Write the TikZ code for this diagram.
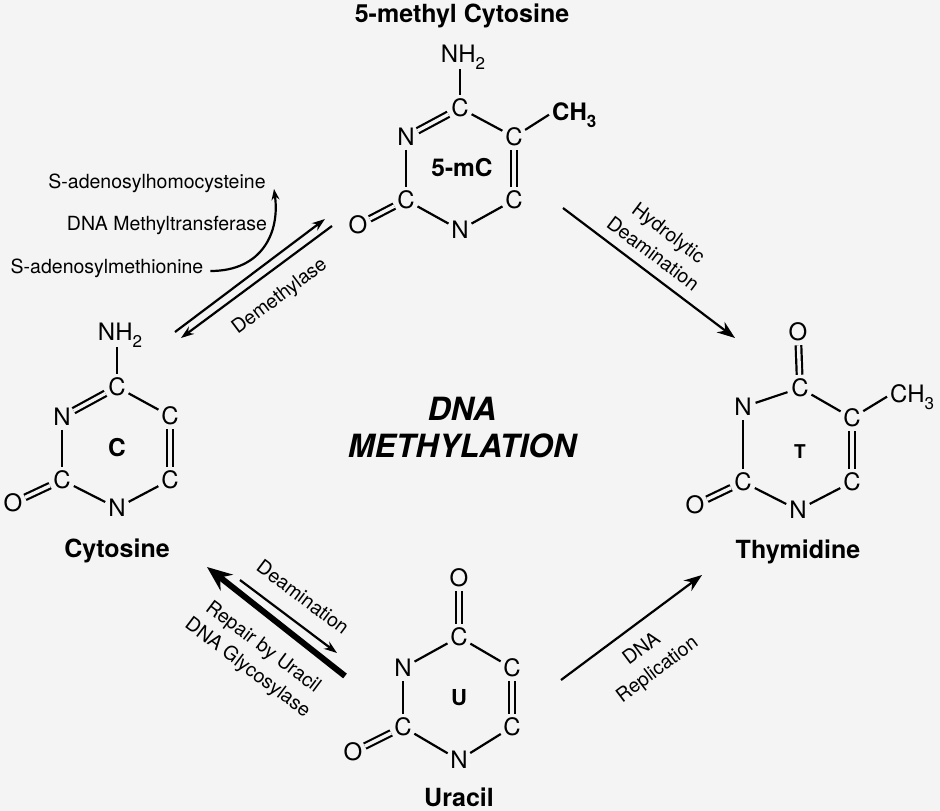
\documentclass[tikz,border=0pt]{standalone}
\usepackage{fontspec}
\setmainfont{TeX Gyre Heros}
\usetikzlibrary{arrows.meta,calc}
\definecolor{bgc}{RGB}{244,244,244}
\newcommand{\chemsub}[1]{\raisebox{-7pt}{\fontsize{17}{17}\selectfont #1}}

\tikzset{
  atom/.style={circle,inner sep=0pt,minimum size=26pt,font=\fontsize{24}{24}\selectfont},
  group/.style={inner sep=0pt,font=\fontsize{24}{24}\selectfont},
  bond/.style={line width=2.2pt},
  dbond/.style={line width=2.2pt,double=bgc,double distance=3.4pt},
  ringname/.style={font=\bfseries\fontsize{24.5}{24}\selectfont},
  molname/.style={anchor=base,font=\bfseries\fontsize{25}{25}\selectfont},
  enzyme/.style={font=\fontsize{19.5}{26}\selectfont,align=center,inner sep=0pt},
  thinarrow/.style={line width=2.2pt,-{Stealth[length=18pt,width=13pt]}},
  smallarrow/.style={line width=2.2pt,-{Stealth[length=13pt,width=9pt]}},
  thickarrow/.style={line width=6pt,-{Stealth[length=25pt,width=20pt]}}
}

\begin{document}
\begin{tikzpicture}[x=1pt,y=-1pt]
\useasboundingbox[fill=bgc] (0,0) rectangle (940,811);

% centre title
\node[font=\bfseries\itshape\fontsize{32}{37}\selectfont,align=center,inner sep=0pt] (title) at (462,428) {DNA\\METHYLATION};

% 5-methyl cytosine
\node[molname] (mname) at (462,23) {5-methyl Cytosine};
\begin{scope}[shift={(460,168)}]
  \node[atom] (m4) at (0,-60) {C};
  \node[atom] (m3) at (-54,-31) {N};
  \node[atom] (m5) at (54,-31) {C};
  \node[atom] (m6) at (54,32) {C};
  \node[atom] (m2) at (-54,32) {C};
  \node[atom] (m1) at (0,62) {N};
  \node[atom] (mo) at (-102,57) {O};
  \node[group,anchor=base] (mnh) at (3,-106) {NH\chemsub{2}};
  \node[group,anchor=base west,font=\bfseries\fontsize{24}{24}\selectfont] (mch) at (92,-48) {CH\chemsub{3}};
  \node[ringname] (mlab) at (2,0) {5-mC};
\end{scope}
\draw[bond] (m4) -- (m4 |- mnh.south);
\draw[dbond] (m3) -- (m4);
\draw[bond] (m4) -- (m5);
\draw[dbond] (m5) -- (m6);
\draw[bond] (m6) -- (m1);
\draw[bond] (m1) -- (m2);
\draw[bond] (m2) -- (m3);
\draw[dbond] (m2) -- (mo);
\draw[bond] (m5) -- ([xshift=-3pt]mch.west);

% cytosine
\begin{scope}[shift={(117,448)}]
  \node[atom] (c4) at (0,-61) {C};
  \node[atom] (c3) at (-55,-31) {N};
  \node[atom] (c5) at (53,-32) {C};
  \node[atom] (c6) at (53,32) {C};
  \node[atom] (c2) at (-55,32) {C};
  \node[atom] (c1) at (0,60) {N};
  \node[atom] (co) at (-104,55) {O};
  \node[group,anchor=base] (cnh) at (3,-108) {NH\chemsub{2}};
  \node[ringname] (clab) at (0,0) {C};
  \node[molname] (cname) at (0,109) {Cytosine};
\end{scope}
\draw[bond] (c4) -- (c4 |- cnh.south);
\draw[dbond] (c3) -- (c4);
\draw[bond] (c4) -- (c5);
\draw[dbond] (c5) -- (c6);
\draw[bond] (c6) -- (c1);
\draw[bond] (c1) -- (c2);
\draw[bond] (c2) -- (c3);
\draw[dbond] (c2) -- (co);

% uracil
\begin{scope}[shift={(459,698)}]
  \node[atom] (u4) at (0,-61) {C};
  \node[atom] (uo4) at (0,-120) {O};
  \node[atom] (u3) at (-56,-30) {N};
  \node[atom] (u5) at (53,-30) {C};
  \node[atom] (u6) at (53,29) {C};
  \node[atom] (u2) at (-56,29) {C};
  \node[atom] (u1) at (0,62) {N};
  \node[atom] (uo2) at (-106,54) {O};
  \node[ringname,font=\bfseries\fontsize{22}{22}\selectfont] (ulab) at (0,0) {U};
  \node[molname] (uname) at (0,108) {Uracil};
\end{scope}
\draw[dbond] (u4) -- (uo4);
\draw[bond] (u3) -- (u4);
\draw[bond] (u4) -- (u5);
\draw[dbond] (u5) -- (u6);
\draw[bond] (u6) -- (u1);
\draw[bond] (u1) -- (u2);
\draw[bond] (u2) -- (u3);
\draw[dbond] (u2) -- (uo2);

% thymidine
\begin{scope}[shift={(798,451)}]
  \node[atom] (t4) at (2,-63) {C};
  \node[atom] (to4) at (0,-119) {O};
  \node[atom] (t3) at (-55,-44) {N};
  \node[atom] (t5) at (54,-33) {C};
  \node[atom] (t6) at (54,31) {C};
  \node[atom] (t2) at (-55,31) {C};
  \node[atom] (t1) at (0,59) {N};
  \node[atom] (to2) at (-103,54) {O};
  \node[group,anchor=base west] (tch) at (92,-49) {CH\chemsub{3}};
  \node[ringname,font=\bfseries\fontsize{19}{19}\selectfont] (tlab) at (2,1) {T};
  \node[molname] (tname) at (0,107) {Thymidine};
\end{scope}
\draw[dbond] (t4) -- (to4);
\draw[bond] (t3) -- (t4);
\draw[bond] (t4) -- (t5);
\draw[dbond] (t5) -- (t6);
\draw[bond] (t6) -- (t1);
\draw[bond] (t1) -- (t2);
\draw[bond] (t2) -- (t3);
\draw[dbond] (t2) -- (to2);
\draw[bond] (t5) -- ([xshift=-3pt]tch.west);

% methyl transfer
\node[enzyme] (sah) at (157,183) {S-adenosylhomocysteine};
\node[enzyme] (dnmt) at (167,225) {DNA Methyltransferase};
\node[enzyme] (sam) at (107,268) {S-adenosylmethionine};
\coordinate (sahend) at (274,189);
\draw[smallarrow,-{Stealth[length=11pt,width=8pt]}] ([xshift=7pt,yshift=-3pt]sam.east) .. controls +(52,0) and +(6,43) .. (sahend);

\coordinate (mt1) at (175,332);
\coordinate (mt2) at (325,219);
\coordinate (dm1) at (332,226);
\coordinate (dm2) at (181,338);
\draw[smallarrow] (mt1) -- (mt2);
\draw[smallarrow] (dm1) -- (dm2);
\node[enzyme,rotate=37] (demeth) at (280,297) {Demethylase};

% hydrolytic deamination
\coordinate (hd1) at (563,208);
\coordinate (hd2) at (735,338);
\draw[thinarrow] (hd1) -- (hd2);
\node[enzyme,rotate=-37] (hydro) at (661,243) {Hydrolytic\\Deamination};

% deamination and repair
\coordinate (de1) at (240,580);
\coordinate (de2) at (337,653);
\draw[smallarrow] (de1) -- (de2);
\node[enzyme,rotate=-37] (deam) at (303,597) {Deamination};
\coordinate (re1) at (345,676);
\coordinate (re2) at (207,567);
\draw[thickarrow] (re1) -- (re2);
\node[enzyme,rotate=-37] (repair) at (255,658) {Repair by Uracil\\DNA Glycosylase};

% replication
\coordinate (rp1) at (561,680);
\coordinate (rp2) at (702,575);
\draw[thinarrow] (rp1) -- (rp2);
\node[enzyme,rotate=37] (repl) at (650,660) {DNA\\Replication};
\end{tikzpicture}
\end{document}
